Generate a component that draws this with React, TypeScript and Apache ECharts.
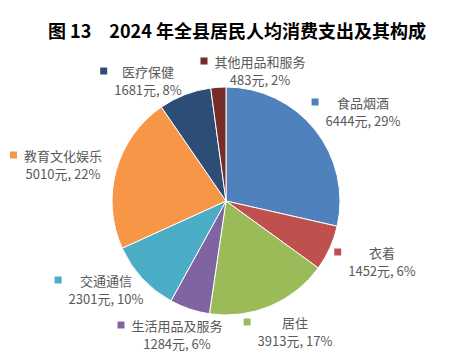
import React, { useEffect, useRef } from "react";
import * as echarts from "echarts";

const categories = ["食品烟酒", "衣着", "居住", "生活用品及服务", "交通通信", "教育文化娱乐", "医疗保健", "其他用品和服务"];
const values = [6444, 1452, 3913, 1284, 2301, 5010, 1681, 483];
const percents = ["29%", "6%", "17%", "6%", "10%", "22%", "8%", "2%"];
const colors = ["#4F81BD", "#C0504D", "#9BBB59", "#8064A2", "#4BACC6", "#F79646", "#2C4D75", "#772C2A"];
// label block centres (px) in the 450x364 canvas
const labelX = [356, 375, 288, 170, 99, 56, 141, 253];
const labelY = [111, 261, 331, 334, 289, 164, 80, 70];

export default function App() {
  const ref = useRef<HTMLDivElement>(null);
  useEffect(() => {
    document.body.style.margin = "0";
    const chart = echarts.init(ref.current!, null, { renderer: "svg" });
    const txt = { fontSize: 13, color: "#595959", fontFamily: "Noto Sans CJK SC", lineHeight: 18 };
    const rich: any = {
      n: { ...txt, align: "center", padding: [0, 0, 0, 7] },
      v: { ...txt, align: "center", padding: [0, 0, 0, 14] },
    };
    colors.forEach((c, i) => {
      rich["m" + i] = { width: 7, height: 7, backgroundColor: c, align: "left" };
    });
    chart.setOption({
      animation: false,
      title: {
        text: "图 13\u30002024 年全县居民人均消费支出及其构成",
        left: 43,
        top: 16,
        textStyle: { fontSize: 18, fontWeight: "bold", color: "#000", fontFamily: "Noto Sans CJK SC" },
      },
      series: [
        {
          type: "pie",
          center: [226, 201],
          radius: 114,
          startAngle: 90,
          clockwise: true,
          itemStyle: { borderColor: "#fff", borderWidth: 1 },
          labelLine: { show: false },
          label: {
            show: true,
            position: "outside",
            overflow: "none",
            alignTo: "none",
            bleedMargin: -400,
            formatter: (p: any) =>
              `{m${p.dataIndex}|}{n|${p.name}}\n{v|${p.value}元, ${percents[p.dataIndex]}}`,
            rich,
          },
          labelLayout: (p: any) => ({
            x: labelX[p.dataIndex],
            y: labelY[p.dataIndex],
            align: "center",
            verticalAlign: "middle",
          }),
          data: categories.map((name, i) => ({ name, value: values[i], itemStyle: { color: colors[i] } })),
        },
      ],
    });
    return () => chart.dispose();
  }, []);
  return <div ref={ref} style={{ width: 450, height: 364 }} />;
}
